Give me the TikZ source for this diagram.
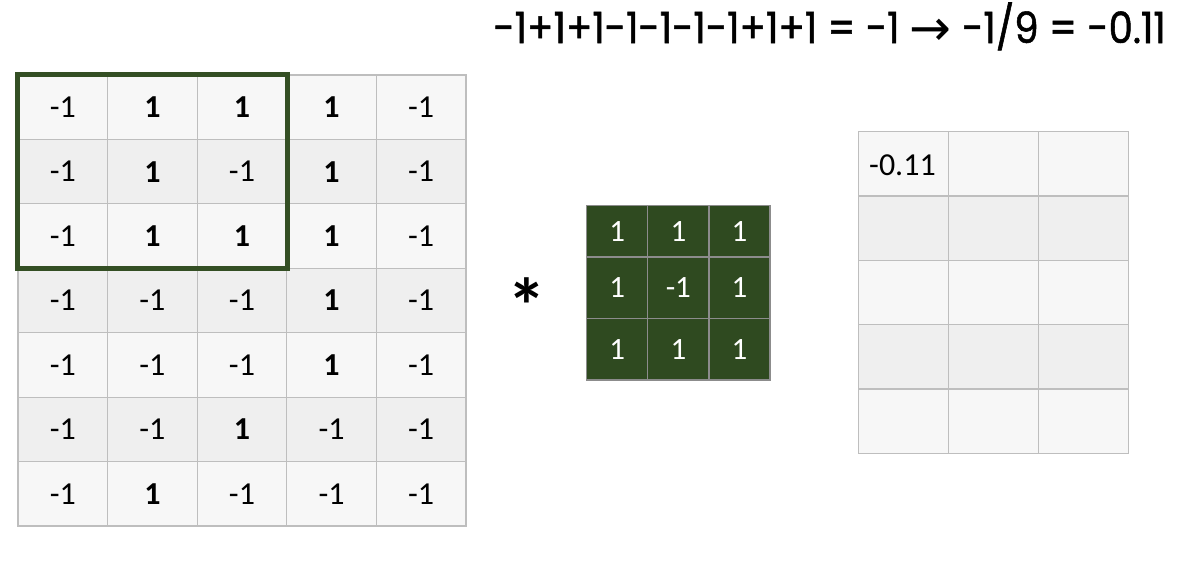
\documentclass[tikz,border=0pt]{standalone}
\usepackage{fontspec}
\setmainfont{Carlito}
\newfontfamily\titlefont[FakeBold=1.2,FakeStretch=0.9]{Poppins}
\newfontfamily\arrowfont{DejaVu Sans}
\definecolor{rowA}{HTML}{F7F7F7}
\definecolor{rowB}{HTML}{EFEFEF}
\definecolor{gridline}{HTML}{BEBEBE}
\definecolor{kgreen}{HTML}{2F4A20}
\definecolor{kline}{HTML}{8C8C8C}
\definecolor{hlgreen}{HTML}{344F24}
\begin{document}
\begin{tikzpicture}[x=1pt,y=-1pt,
  cell/.style={draw=gridline, line width=1.2pt, minimum width=89.6pt, minimum height=64.4pt, inner sep=0pt, font=\fontsize{32}{33}\selectfont},
  rcell/.style={draw=gridline, line width=1.2pt, minimum width=90pt, minimum height=64.3pt, inner sep=0pt},
  kcell/.style={draw=kline, fill=kgreen, line width=1.2pt, minimum width=61.1pt, inner sep=0pt, text=white, font=\fontsize{31}{32}\selectfont},
  hlbox/.style={draw=hlgreen, line width=5pt},
  titletext/.style={font=\titlefont\fontsize{43}{46}\selectfont, inner sep=0pt}]
\useasboundingbox[fill=white] (0,0) rectangle (1177,565);
% left input grid
\foreach \vals [count=\r from 0] in {
  {-1,\textbf{1},\textbf{1},\textbf{1},-1},
  {-1,\textbf{1},-1,\textbf{1},-1},
  {-1,\textbf{1},\textbf{1},\textbf{1},-1},
  {-1,-1,-1,\textbf{1},-1},
  {-1,-1,-1,\textbf{1},-1},
  {-1,-1,\textbf{1},-1,-1},
  {-1,\textbf{1},-1,-1,-1}} {
  \foreach \v [count=\c from 0] in \vals {
    \ifodd\r \def\fc{rowB}\else\def\fc{rowA}\fi
    \node[cell, fill=\fc] (L\r\c) at ({18+89.6*(\c+0.5)},{75+64.43*(\r+0.5)}) {\v};
  }
}
\draw[hlbox] (L00.north west) rectangle (L22.south east);
% asterisk
\node[font=\fontsize{78}{80}\selectfont\bfseries, inner sep=0pt, anchor=base] (star) at (527,333) {*};
% kernel
\foreach \vals/\yc/\h [count=\r from 0] in {{1,1,1}/231.25/51.5,{1,-1,1}/287.75/61.5,{1,1,1}/349.25/61.5} {
  \foreach \v [count=\c from 0] in \vals {
    \node[kcell, minimum height=\h pt] (K\r\c) at ({586.7+61.1*(\c+0.5)},\yc) {\v};
  }
}
% output grid
\foreach \r in {0,...,4} {
  \foreach \c in {0,1,2} {
    \ifodd\r \def\fc{rowB}\else\def\fc{rowA}\fi
    \node[rcell, fill=\fc] (R\r\c) at ({858.3+90*(\c+0.5)},{131.7+64.3*(\r+0.5)}) {};
  }
}
\node[anchor=base west, inner sep=0pt, font=\fontsize{32}{33}\selectfont] (res) at (869,175) {-0.11};
% title
\node[titletext, anchor=base east] (title) at (1166,43) {-1+1+1-1-1-1-1+1+1 = -1 \raisebox{-2pt}{\arrowfont\fontsize{50}{52}\selectfont →} -1/9 = -0.11};
\end{tikzpicture}
\end{document}
